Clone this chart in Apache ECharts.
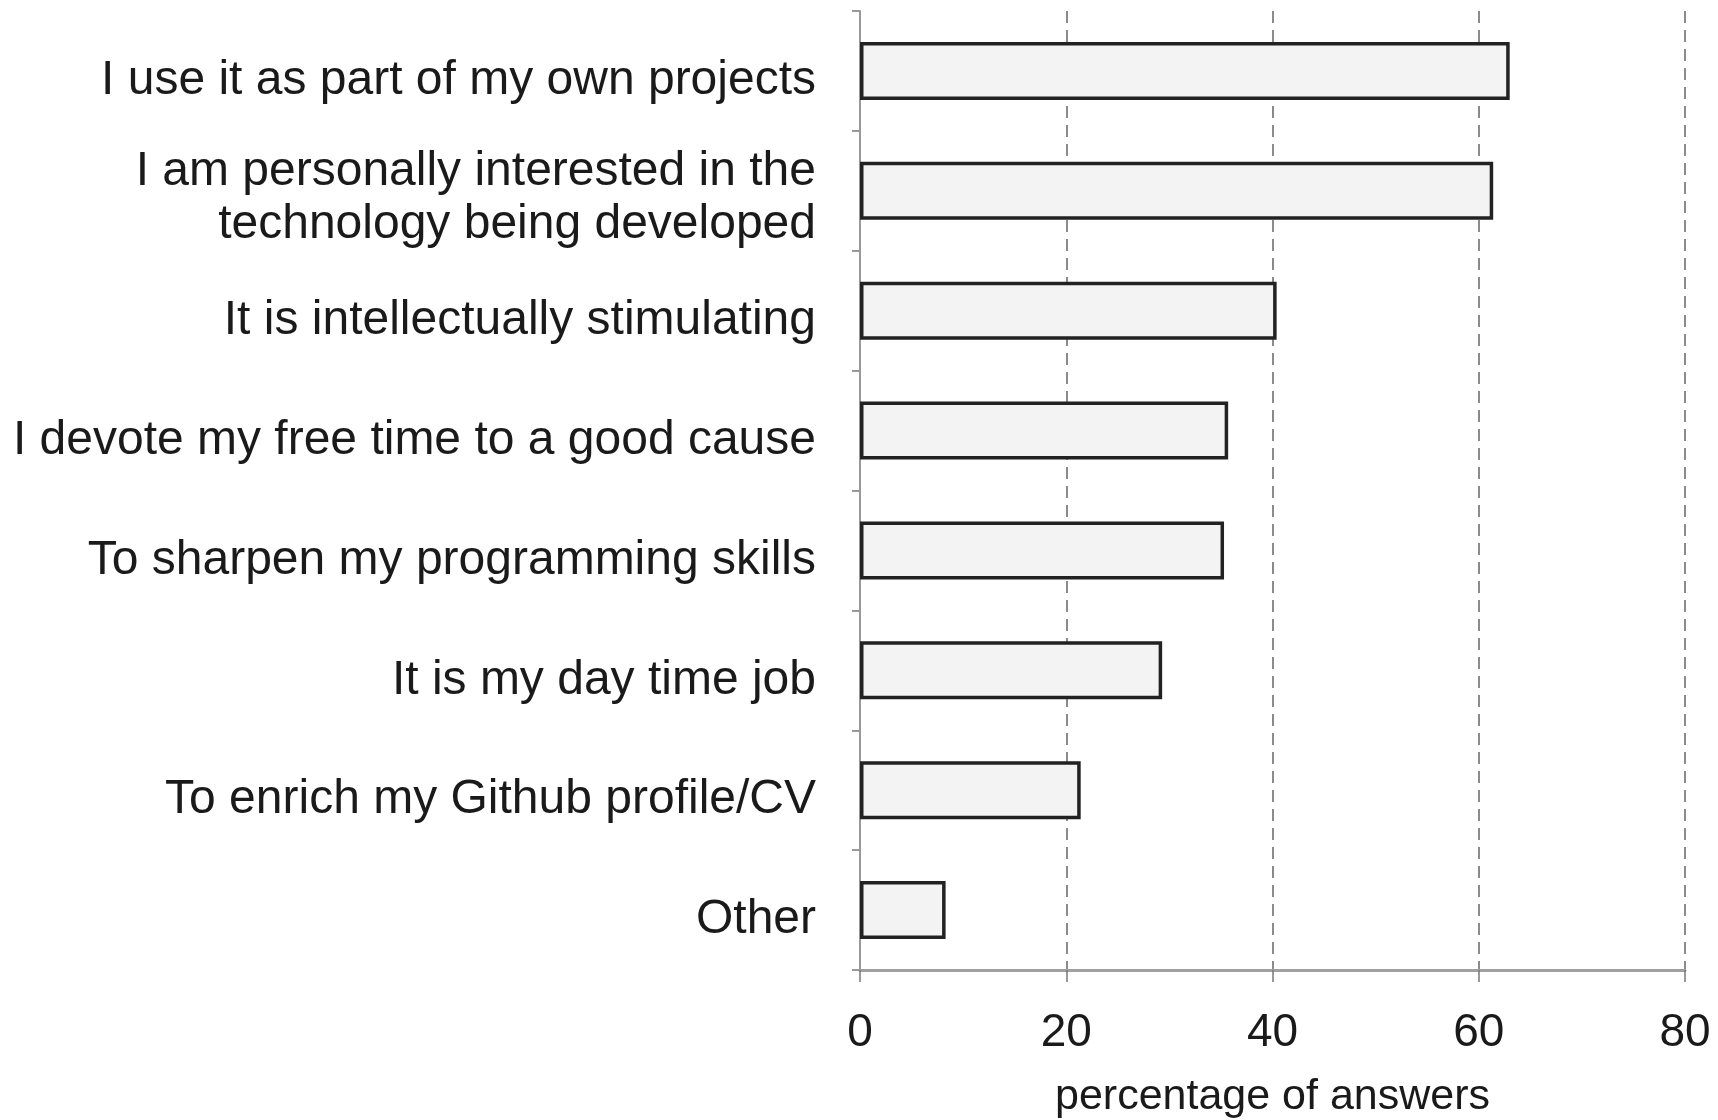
<!DOCTYPE html>
<html>
<head>
<meta charset="utf-8">
<script src="https://cdn.jsdelivr.net/npm/echarts@6/dist/echarts.min.js"></script>
<style>
html,body{margin:0;padding:0;background:#fff;}
#chart{width:1718px;height:1120px;}
</style>
</head>
<body>
<div id="chart"></div>
<script>
const categories = [
  "I use it as part of my own projects",
  "I am personally interested in the\ntechnology being developed",
  "It is intellectually stimulating",
  "I devote my free time to a good cause",
  "To sharpen my programming skills",
  "It is my day time job",
  "To enrich my Github profile/CV",
  "Other"
];
const percentages = [63.0, 61.4, 40.4, 35.7, 35.3, 29.3, 21.4, 8.3];
const xTicks = [0, 20, 40, 60, 80];
const xAxisName = "percentage of answers";

const FONT = '"Liberation Sans", Arial, Helvetica, sans-serif';
const labelBase = {fontFamily: FONT, fontSize: 48, color: '#1a1a1a', align: 'right'};
const chart = echarts.init(document.getElementById('chart'), null, {renderer: 'canvas'});
chart.setOption({
  backgroundColor: '#ffffff',
  animation: false,
  grid: {left: 860, right: 33, top: 11, bottom: 150, containLabel: false, outerBoundsMode: 'none'},
  xAxis: {
    type: 'value',
    min: xTicks[0],
    max: xTicks[xTicks.length - 1],
    interval: xTicks[1] - xTicks[0],
    name: xAxisName,
    nameLocation: 'middle',
    nameGap: 106,
    nameTextStyle: {fontFamily: FONT, fontSize: 43, color: '#1a1a1a'},
    axisLine: {show: true, lineStyle: {color: '#a0a0a0', width: 3}},
    axisTick: {show: true, length: 12, lineStyle: {color: '#777', width: 1.5, type: [12, 7]}},
    axisLabel: {fontFamily: FONT, fontSize: 46, color: '#1a1a1a', margin: 40},
    splitLine: {show: true, lineStyle: {color: '#666', width: 1.5, type: [12, 7]}}
  },
  yAxis: {
    type: 'category',
    data: categories,
    inverse: true,
    axisLine: {show: true, lineStyle: {color: '#999', width: 2}},
    axisTick: {show: true, length: 8, lineStyle: {color: '#999', width: 2}},
    axisLabel: {
      fontFamily: FONT, fontSize: 48, color: '#1a1a1a', margin: 44, align: 'right',
      formatter: function (v) {
        const lines = v.split('\n');
        return lines.map(function (s, i) { return (i === 0 ? '{a|' : '{m|') + s + '}'; }).join('\n');
      },
      rich: {
        a: Object.assign({lineHeight: 68, verticalAlign: 'bottom'}, labelBase),
        m: Object.assign({lineHeight: 58, verticalAlign: 'middle'}, labelBase)
      }
    },
    splitLine: {show: false}
  },
  series: [{
    type: 'bar',
    data: percentages,
    barWidth: 58,
    itemStyle: {color: '#f3f3f3', borderColor: '#222', borderWidth: 3.5}
  }]
});
</script>
</body>
</html>
